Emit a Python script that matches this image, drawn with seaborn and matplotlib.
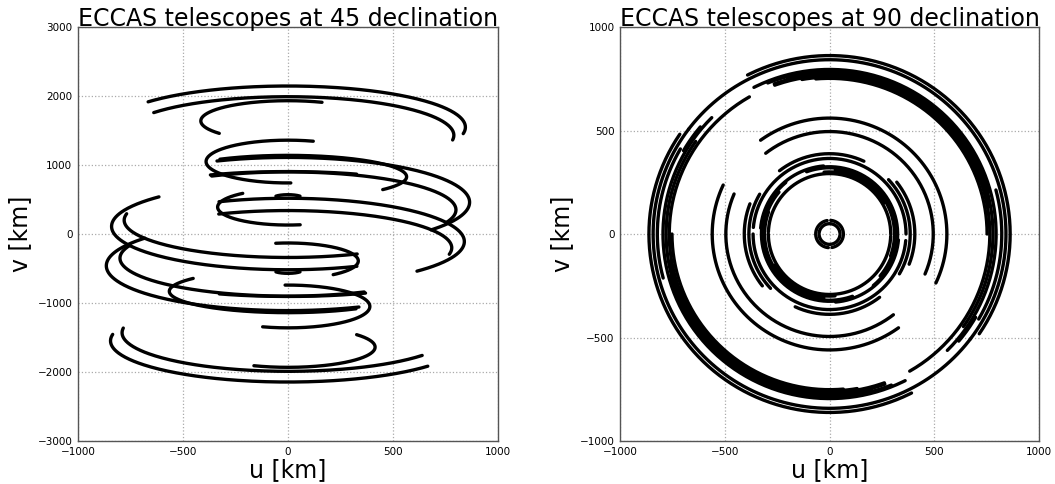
import numpy as np
import pandas as pd
import seaborn as sns
import matplotlib
matplotlib.use('Agg')
import matplotlib.pyplot as plt

# ---- 45 deg declination: elliptical uv tracks (one half, the other half is the conjugate)
# u = a*sin(t), v = v0 + b*cos(t), t in degrees
dec45_a = [845, 790, 415, 390, 565, 865, 800, 840, 780, 335, 600, 70]
dec45_b = [597, 559, 293, 310, 310, 650, 550, 628, 540, 260, 230, 50]
dec45_v0 = [1548, 1431, 1639, 1050, 830, 460, 350, -110, -200, 390, 675, 520]
dec45_t0 = [-52, -54, -128, -182, -35, -23, -27, -23, -25, -190, -38, -55]
dec45_t1 = [99, 97, 23, 18, 127, 128, 110, 133, 100, -40, 33, 55]

# ---- 90 deg declination: circular arcs centred on the origin (plus conjugate arcs)
dec90_r = [862, 842, 822, 805, 795, 787, 780, 772, 765, 758, 752,
           560, 495, 407, 388, 385, 365,
           330, 325, 320, 315, 310, 300, 292,
           66, 50]
dec90_t0 = [-34, -37, 150, 140, -45, 15, -35, 10, -60, 20, 0,
            -25, -23, -21, 65, -30, 0,
            95, -50, 20, -40, -20, 30, 0,
            -80, 5]
dec90_t1 = [117, 143, 195, 150, 117, 112, 105, 110, 110, 100, 95,
            126, 128, 38, 128, 43, 175,
            175, 95, 110, 60, 85, 95, 178,
            85, 175]


def tracks_45():
    rows = []
    k = 0
    for a, b, v0, t0, t1 in zip(dec45_a, dec45_b, dec45_v0, dec45_t0, dec45_t1):
        t = np.radians(np.linspace(t0, t1, 200))
        u = a * np.sin(t)
        v = v0 + b * np.cos(t)
        for sgn in (1, -1):
            rows.append(pd.DataFrame({'u': sgn * u, 'v': sgn * v, 'track': k}))
            k += 1
    return pd.concat(rows, ignore_index=True)


def tracks_90():
    rows = []
    k = 0
    for r, t0, t1 in zip(dec90_r, dec90_t0, dec90_t1):
        t = np.radians(np.linspace(t0, t1, 200))
        u = r * np.cos(t)
        v = r * np.sin(t)
        for sgn in (1, -1):
            rows.append(pd.DataFrame({'u': sgn * u, 'v': sgn * v, 'track': k}))
            k += 1
    return pd.concat(rows, ignore_index=True)


sns.set_style('white')
plt.rcParams['font.family'] = ['DejaVu Sans']
plt.rcParams['text.color'] = 'black'
plt.rcParams['axes.labelcolor'] = 'black'
plt.rcParams['xtick.color'] = 'black'
plt.rcParams['ytick.color'] = 'black'

fig = plt.figure(figsize=(10.55, 4.84), dpi=100)
ax1 = fig.add_axes([0.0739, 0.0888, 0.3981, 0.8554])
ax2 = fig.add_axes([0.5877, 0.0888, 0.3972, 0.8554])

panels = [
    (ax1, tracks_45(), 45, (-3000, 3000), np.arange(-3000, 3001, 1000)),
    (ax2, tracks_90(), 90, (-1000, 1000), np.arange(-1000, 1001, 500)),
]

for ax, df, dec, ylim, yticks in panels:
    sns.lineplot(data=df, x='u', y='v', units='track', estimator=None, sort=False,
                 color='black', lw=2.4, ax=ax, legend=False)
    ax.set_xlim(-1000, 1000)
    ax.set_ylim(*ylim)
    ax.set_xticks(np.arange(-1000, 1001, 500))
    ax.set_yticks(yticks)
    ax.grid(True, linestyle=':', color='#aaaaaa', lw=0.9)
    ax.set_axisbelow(True)
    for s in ax.spines.values():
        s.set_color('#555555')
        s.set_linewidth(1.0)
    ax.tick_params(length=0, labelsize=7.5, pad=4)
    ax.set_xlabel('u [km]', fontsize=17, labelpad=1)
    ax.set_ylabel('v [km]', fontsize=17, labelpad=4)
    ax.set_title('ECCAS telescopes at %d declination' % dec, fontsize=17, pad=1)

fig.savefig('out.png', dpi=100)
